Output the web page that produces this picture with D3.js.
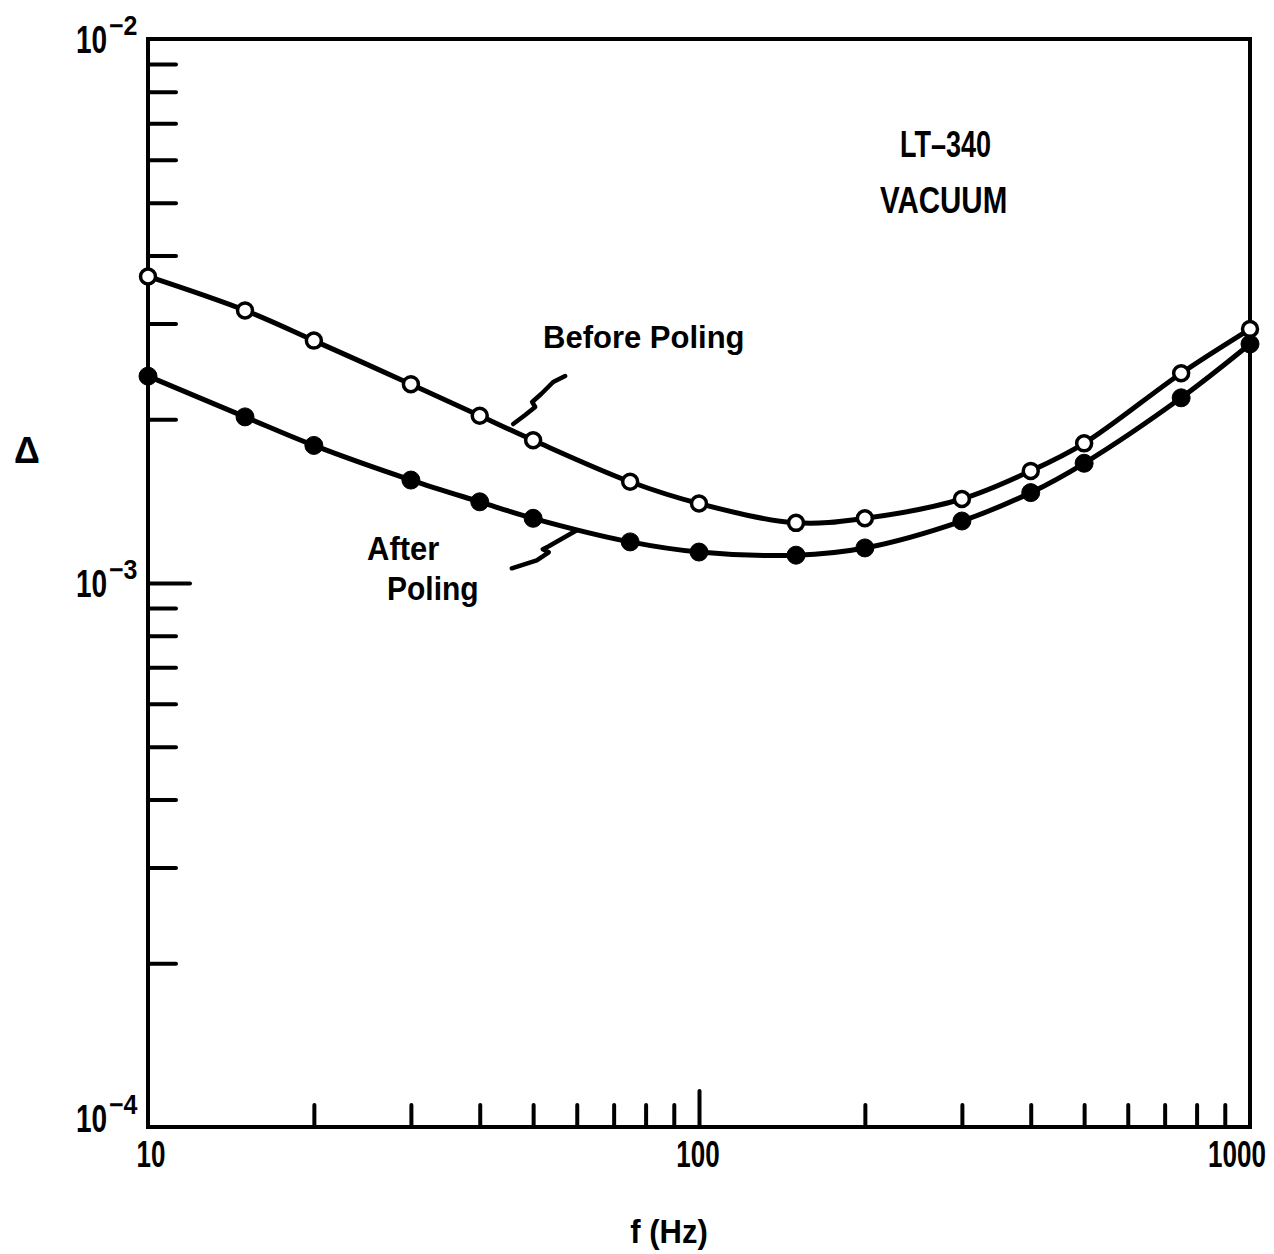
<!DOCTYPE html>
<html>
<head>
<meta charset="utf-8">
<script src="https://cdn.jsdelivr.net/npm/d3@7"></script>
<style>
  body { margin: 0; background: #fff; }
  svg text { font-family: "Liberation Sans", Arial, sans-serif; fill: #000; font-weight: bold; }
</style>
</head>
<body>
<div id="container"></div>
<script>
// frequency (Hz) of each measured point
const freqs = [10, 15, 20, 30, 40, 50, 75, 100, 150, 200, 300, 400, 500, 750, 1000]
// loss Δ before poling (open circles)
const beforePoling = [3.66e-3, 3.17e-3, 2.79e-3, 2.32e-3, 2.03e-3, 1.83e-3, 1.535e-3, 1.40e-3,
    1.29e-3, 1.315e-3, 1.427e-3, 1.607e-3, 1.806e-3, 2.43e-3, 2.93e-3]
// loss Δ after poling (filled circles)
const afterPoling = [2.40e-3, 2.02e-3, 1.79e-3, 1.546e-3, 1.41e-3, 1.315e-3, 1.19e-3, 1.14e-3,
    1.125e-3, 1.16e-3, 1.30e-3, 1.466e-3, 1.66e-3, 2.19e-3, 2.75e-3]

const xTickLabels = [10, 100, 1000]
const yTickExponents = [-2, -3, -4]
const xMinorTicks = [20, 30, 40, 50, 60, 70, 80, 90, 200, 300, 400, 500, 600, 700, 800, 900]
const yMinorTicks = [2e-4, 3e-4, 4e-4, 5e-4, 6e-4, 7e-4, 8e-4, 9e-4,
    2e-3, 3e-3, 4e-3, 5e-3, 6e-3, 7e-3, 8e-3, 9e-3]

const W = 1274, H = 1254
const plot = { left: 148, right: 1250, top: 39, bottom: 1127 }

const svg = d3.select("#container")
    .append("svg")
    .attr("width", W)
    .attr("height", H)

const x = d3.scaleLog().domain([10, 1000]).range([plot.left, plot.right])
const y = d3.scaleLog().domain([1e-2, 1e-4]).range([plot.top, plot.bottom])

// text with a vertical stretch, the lettering in the original is tall and narrow
function label(text, px, py, size, sy = 1, anchor = "start") {
    return svg.append("text")
        .attr("transform", `translate(${px},${py}) scale(1,${sy})`)
        .attr("text-anchor", anchor)
        .style("font-size", size + "px")
        .text(text)
}

/* TICKS */
function styleTicks(g) {
    g.select(".domain").remove()
    g.selectAll("line")
        .attr("stroke", "#000")
        .attr("stroke-width", 4)
        .attr("stroke-linecap", "round")
}

svg.append("g")
    .attr("transform", `translate(${plot.left},0)`)
    .call(d3.axisRight(y).tickValues(yMinorTicks).tickSize(28).tickFormat(""))
    .call(styleTicks)

svg.append("g")
    .attr("transform", `translate(${plot.left},0)`)
    .call(d3.axisRight(y).tickValues([1e-3]).tickSize(42).tickFormat(""))
    .call(styleTicks)

svg.append("g")
    .attr("transform", `translate(0,${plot.bottom})`)
    .call(d3.axisTop(x).tickValues(xMinorTicks).tickSize(22).tickFormat(""))
    .call(styleTicks)

svg.append("g")
    .attr("transform", `translate(0,${plot.bottom})`)
    .call(d3.axisTop(x).tickValues([100]).tickSize(36).tickFormat(""))
    .call(styleTicks)

/* FRAME */
svg.append("rect")
    .attr("x", plot.left)
    .attr("y", plot.top)
    .attr("width", plot.right - plot.left)
    .attr("height", plot.bottom - plot.top)
    .attr("fill", "none")
    .attr("stroke", "#000")
    .attr("stroke-width", 4)

/* TICK LABELS */
const xLabelShift = [3, -1, -13]
xTickLabels.forEach((d, i) => {
    label(d, x(d) + xLabelShift[i], plot.bottom + 40, 26, 1.45, "middle")
})

const yLabelShift = { "-2": 14, "-3": 14, "-4": 5 }
yTickExponents.forEach(d => {
    const base = y(Math.pow(10, d)) + yLabelShift[d]
    label("10", 76, base, 28, 1.38)
    label("\u2212" + (-d), 109, base - 18, 25, 1.1)
})

/* AXIS TITLES */
label("f (Hz)", 669, 1243, 31, 1.05, "middle")
label("\u0394", 27, 463, 36, 1, "middle")

/* CURVES */
const line = d3.line()
    .x(d => x(d[0]))
    .y(d => y(d[1]))
    .curve(d3.curveCatmullRom.alpha(0.5))

const series = [
    { values: beforePoling, open: true },
    { values: afterPoling, open: false }
]

series.forEach(s => {
    const pts = freqs.map((f, i) => [f, s.values[i]])
    svg.append("path")
        .datum(pts)
        .attr("fill", "none")
        .attr("stroke", "#000")
        .attr("stroke-width", 5)
        .attr("d", line)

    svg.selectAll(null)
        .data(pts)
        .join("circle")
        .attr("cx", d => x(d[0]))
        .attr("cy", d => y(d[1]))
        .attr("r", s.open ? 7.5 : 9)
        .attr("fill", s.open ? "#fff" : "#000")
        .attr("stroke", "#000")
        .attr("stroke-width", s.open ? 3.5 : 1)
})

/* ANNOTATIONS */
function leader(f, d, rel) {
    const [ax, ay] = [x(f), y(d)]
    svg.append("path")
        .attr("d", "M" + rel.map(p => `${ax + p[0]},${ay + p[1]}`).join("L"))
        .attr("fill", "none")
        .attr("stroke", "#000")
        .attr("stroke-width", 4.5)
        .attr("stroke-linecap", "round")
        .attr("stroke-linejoin", "round")
}
// Before Poling pointer: tip on the upper curve
leader(46, 1.96e-3, [[0, 0], [12, -9], [22, -17], [19, -22], [28, -30], [40, -42], [52, -48]])
// After Poling pointer
leader(60, 1.25e-3, [[0, 0], [-28, 16], [-34, 19], [-28, 22], [-40, 30], [-65, 38]])

label("Before Poling", 543, 348, 31, 1.0)
label("After", 367, 560, 31, 1.1)
label("Poling", 387, 600, 30, 1.1)
label("LT\u2013340", 900, 157, 27, 1.35)
label("VACUUM", 880, 213, 29.5, 1.25)
</script>
</body>
</html>
